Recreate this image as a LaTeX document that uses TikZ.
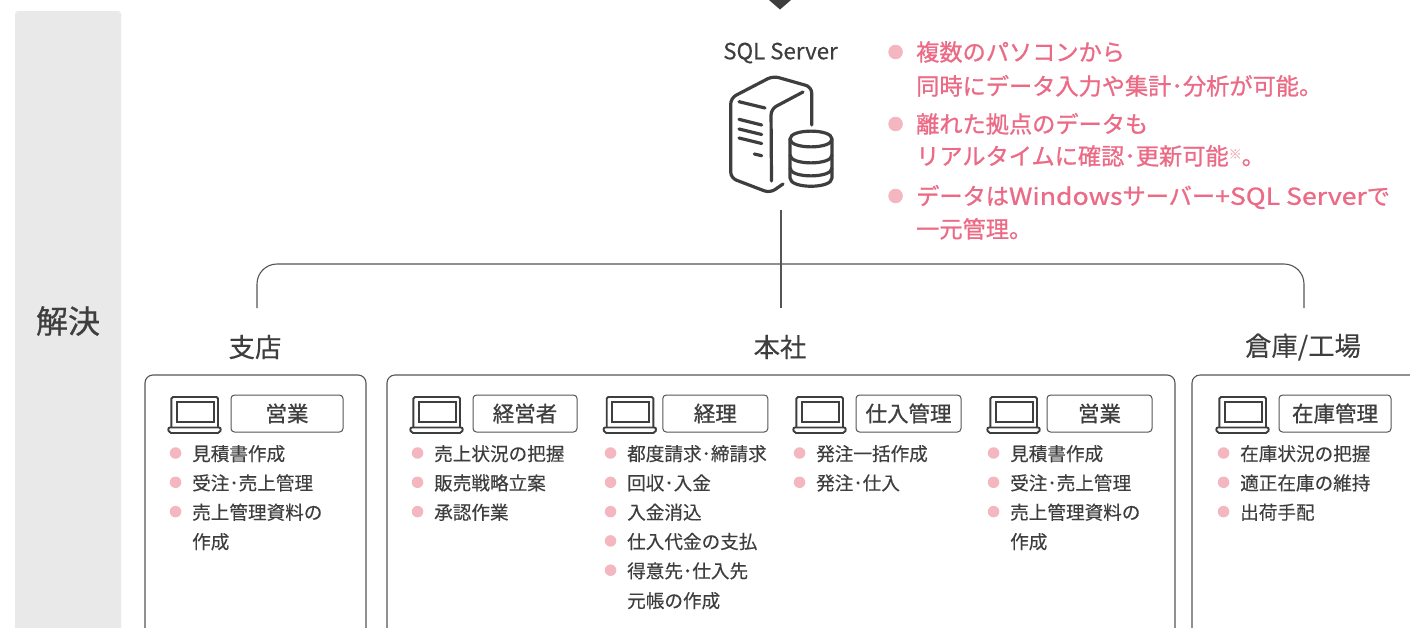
\documentclass[tikz,border=0pt]{standalone}
\usepackage{fontspec}
\setmainfont{Noto Sans CJK JP}[FakeBold=0.25]
\newfontfamily\heavyfont[FakeBold=0.7]{Noto Sans CJK JP}
\newfontfamily\pointfont[FakeBold=0.9]{Noto Sans CJK JP}
\newfontfamily\pointlatin[FakeBold=0.9,FakeStretch=1.15]{Noto Sans CJK JP}
\usetikzlibrary{arrows}

\definecolor{ink}{HTML}{3E3E3E}
\definecolor{rule}{HTML}{555555}
\definecolor{rose}{HTML}{EC6A86}
\definecolor{blush}{HTML}{F4B7C0}
\definecolor{band}{HTML}{E9E9E9}

\newcommand{\latin}[1]{{\pointlatin #1}}

\tikzset{
  site box/.style={draw=rule,line width=1.1pt,rounded corners=8pt},
  role tag/.style={draw=rule,line width=1pt,rounded corners=3.5pt,minimum height=37pt,
                   inner sep=0pt,text=ink,font=\heavyfont\fontsize{21.5}{24}\selectfont},
  site title/.style={text=ink,inner sep=0pt,font=\fontsize{26.4}{30}\selectfont},
  task/.style={anchor=west,inner sep=0pt,text=ink,text height=19pt,text depth=3.6pt,
               font=\fontsize{18.6}{22}\selectfont},
  task dot/.style={circle,fill=blush,minimum size=11.5pt,inner sep=0pt},
  dotted task/.style={task,label={[task dot,label distance=10.5pt]left:{}}},
  point/.style={anchor=west,inner sep=0pt,text=rose,text height=22pt,text depth=4.5pt,
                font=\pointfont\fontsize{23.2}{26}\selectfont},
  point dot/.style={circle,fill=blush,minimum size=14.5pt,inner sep=0pt},
  dotted point/.style={point,label={[point dot,label distance=13pt]left:{}}},
  laptop/.pic={
    \draw[ink,line width=1.9pt,rounded corners=1.5pt] (3.4,30) |- (50,0) -- (50,30);
    \draw[ink,line width=1.9pt] (8.6,5) rectangle (46,25);
    \draw[ink,line width=1.9pt,rounded corners=2pt] (0,30.5) -- (53,30.5) -- (52,36) -- (1,36) -- cycle;
  }
}

% name, x, y of first line, tasks
\newcommand{\tasklist}[4]{
  \foreach \txt [count=\n from 0] in {#4}
    \node[dotted task] (#1\n) at (#2,#3+29.3*\n) {\txt};
}

\begin{document}
\begin{tikzpicture}[x=1pt,y=-1pt]
  \clip (0,0) rectangle (1410,627);
  \fill[white] (0,0) rectangle (1410,627);

  % left band
  \fill[band,rounded corners=3pt] (15,11) rectangle (121,640);
  \node[text=ink,inner sep=0pt,font=\heavyfont\fontsize{32}{36}\selectfont] (solve) at (68,321) {解決};

  % server
  \fill[ink] (769,0) -- (791,0) -- (780,9.5) -- cycle;
  \node[text=ink,inner sep=0pt,font=\fontsize{22.3}{26}\selectfont] (sql) at (780.5,53) {SQL Server};
  \begin{scope}[ink,line width=3.2pt,line cap=round,line join=round]
    \draw[rounded corners=6pt] (811.7,125) -- (811.7,87) -- (773,76) -- (730.7,98) -- (730.7,178) -- (770,193) -- (783,184);
    \draw (739,101.7) -- (765,108);
    \draw[rounded corners=6pt] (803,92) -- (771,109) -- (771.5,181);
    \draw (739,119.3) -- (761.7,125);
    \draw (739,129) -- (761.7,134.5);
    \draw (739,138) -- (761.7,143.5);
    \draw (754.3,154) -- (761.7,155.7);
    \draw (790,139) .. controls (790,128.5) and (832,128.5) .. (832,139)
                    .. controls (832,149.5) and (790,149.5) .. (790,139) -- cycle;
    \draw (790,139) -- (790,178) .. controls (790,189) and (832,189) .. (832,178) -- (832,139);
    \draw (790,155) .. controls (790,165.5) and (832,165.5) .. (832,155);
    \draw (790,168) .. controls (790,178.5) and (832,178.5) .. (832,168);
  \end{scope}

  % points
  \node[dotted point] (p1) at (916,52) {複数のパソコンから};
  \node[point] (p1b) at (916,86) {同時にデータ入力や集計･分析が可能。};
  \node[dotted point] (p2) at (916,124) {離れた拠点のデータも};
  \node[point] (p2b) at (916,156) {リアルタイムに確認･更新可能{\textcolor{blush}{\raisebox{6pt}{\fontsize{13}{14}\selectfont ※}}}。};
  \node[dotted point] (p3) at (916,196) {データは\latin{Windows}サーバー\latin{+SQL Server}で};
  \node[point] (p3b) at (916,229) {一元管理。};

  % connectors
  \coordinate (trunk) at (781,210);
  \coordinate (hq) at (781,308);
  \coordinate (branch) at (257,308);
  \coordinate (plant) at (1304,308);
  \draw[rule,line width=1.1pt] (trunk) -- (hq);
  \draw[rule,line width=1.1pt,rounded corners=20pt] (branch) |- (trunk |- 0,264) -| (plant);

  % sites
  \node[site title] (t1) at (255,347) {支店};
  \node[site title] (t2) at (780,347) {本社};
  \node[site title] (t3) at (1303,347) {倉庫/工場};
  \draw[site box] (145,375) rectangle (366,650);
  \draw[site box] (387,375) rectangle (1175,650);
  \draw[site box] (1192,375) rectangle (1430,650);

  % roles
  \pic at (168,397) {laptop};
  \node[role tag,minimum width=112pt] (r1) at (287,413.5) {営業};
  \pic at (410,397) {laptop};
  \node[role tag,minimum width=104pt] (r2) at (525,413.5) {経営者};
  \pic at (603.3,397) {laptop};
  \node[role tag,minimum width=105pt] (r3) at (715.3,413.5) {経理};
  \pic at (793,397) {laptop};
  \node[role tag,minimum width=105pt] (r4) at (908.5,413.5) {仕入管理};
  \pic at (987,397) {laptop};
  \node[role tag,minimum width=105pt] (r5) at (1099.5,413.5) {営業};
  \pic at (1216,397) {laptop};
  \node[role tag,minimum width=112pt] (r6) at (1335,413.5) {在庫管理};

  % tasks
  \tasklist{a}{192}{453}{見積書作成,受注･売上管理,売上管理資料の}
  \node[task] (a3) at (192,541) {作成};
  \tasklist{b}{434}{453}{売上状況の把握,販売戦略立案,承認作業}
  \tasklist{c}{627}{453}{都度請求･締請求,回収･入金,入金消込,仕入代金の支払,得意先･仕入先}
  \node[task] (c5) at (627,600) {元帳の作成};
  \tasklist{d}{816}{453}{発注一括作成,発注･仕入}
  \tasklist{e}{1010}{453}{見積書作成,受注･売上管理,売上管理資料の}
  \node[task] (e3) at (1010,541) {作成};
  \tasklist{f}{1240}{453}{在庫状況の把握,適正在庫の維持,出荷手配}
\end{tikzpicture}
\end{document}
